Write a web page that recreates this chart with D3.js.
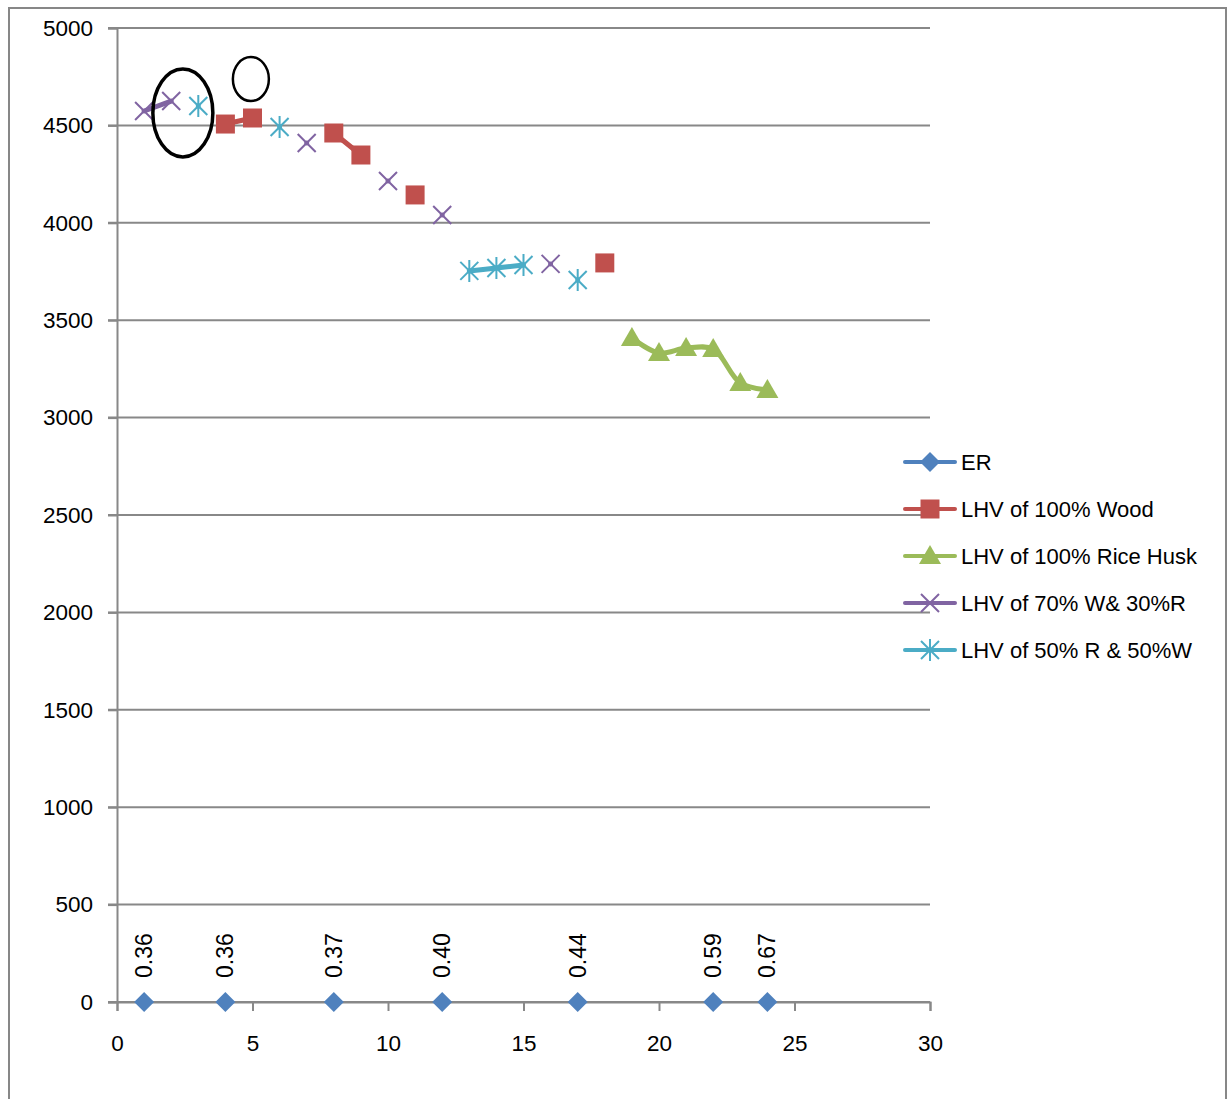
<!DOCTYPE html>
<html>
<head>
<meta charset="utf-8">
<script src="https://cdn.jsdelivr.net/npm/d3@7"></script>
<style>
  body { margin: 0; background: #fff; }
  text { font-family: "Liberation Sans", Arial, sans-serif; fill: #000; }
</style>
</head>
<body>
<svg id="chart" width="1228" height="1099"></svg>
<script>
// x positions (1..24), null = empty cell
let xs = d3.range(1, 25);
let er =       [0.36,null,null,0.36,null,null,null,0.37,null,null,null,0.40,null,null,null,null,0.44,null,null,null,null,0.59,null,0.67];
let wood =     [null,null,null,4507,4538,null,null,4461,4348,null,4143,null,null,null,null,null,null,3794,null,null,null,null,null,null];
let rice =     [null,null,null,null,null,null,null,null,null,null,null,null,null,null,null,null,null,null,3409,3332,3357,3352,3178,3142];
let mix70 =    [4574,4625,null,null,null,null,4410,null,null,4215,null,4040,null,null,null,3789,null,null,null,null,null,null,null,null];
let mix50 =    [null,null,4600,null,null,4492,null,null,null,null,null,null,3753,3768,3783,null,3706,null,null,null,null,null,null,null];

let seriesNames = ["ER", "LHV of 100% Wood", "LHV of 100% Rice Husk", "LHV of 70% W& 30%R", "LHV of 50% R & 50%W"];
let seriesColors = ["#4F81BD", "#C0504D", "#9BBB59", "#8064A2", "#4BACC6"];
let seriesMarkers = ["diamond", "square", "triangle", "x", "star"];

let xTicks = [0, 5, 10, 15, 20, 25, 30];
let yTicks = d3.range(0, 5001, 500);

// hand drawn circles on the picture (data coords, radii in px)
let ellipses = [
  {x: 2.43, y: 4564, rx: 30, ry: 44, w: 3.5},
  {x: 4.94, y: 4738, rx: 18, ry: 22, w: 2.5}
];

let svg = d3.select("#chart");

// outer frame
svg.append("rect")
  .attr("x", 9).attr("y", 8)
  .attr("width", 1217).attr("height", 1110)
  .attr("fill", "none").attr("stroke", "#878787").attr("stroke-width", 2);

let x = d3.scaleLinear().domain([0, 30]).range([117, 930]);
let y = d3.scaleLinear().domain([0, 5000]).range([1002, 28]);

// gridlines
svg.append("g")
  .selectAll("line")
  .data(yTicks)
  .enter().append("line")
  .attr("x1", 108).attr("x2", x(30))
  .attr("y1", d => y(d)).attr("y2", d => y(d))
  .attr("stroke", "#888").attr("stroke-width", 2);

// y axis
let yAxis = svg.append("g")
  .attr("transform", "translate(" + x(0) + ",0)")
  .call(d3.axisLeft(y).tickValues(yTicks).tickSize(9).tickPadding(15).tickFormat(d3.format("d")));
yAxis.select(".domain").attr("stroke", "#888").attr("stroke-width", 2);
yAxis.selectAll(".tick line").attr("stroke", "#888").attr("stroke-width", 2);
yAxis.selectAll("text").style("font-size", "22.5px").attr("fill", "#000");

// x axis
let xAxis = svg.append("g")
  .attr("transform", "translate(0," + y(0) + ")")
  .call(d3.axisBottom(x).tickValues(xTicks).tickSize(9).tickPadding(24));
xAxis.select(".domain").attr("stroke", "#888").attr("stroke-width", 2);
xAxis.selectAll(".tick line").attr("stroke", "#888").attr("stroke-width", 2);
xAxis.selectAll("text").style("font-size", "22.5px").attr("fill", "#000");

function markerPath(type) {
  if (type == "diamond") return "M0,-10L10,0L0,10L-10,0Z";
  if (type == "square") return "M-9.5,-9.5H9.5V9.5H-9.5Z";
  if (type == "triangle") return "M0,-11L11,8L-11,8Z";
  if (type == "x") return "M-9,-9L9,9M-9,9L9,-9";
  if (type == "star") return "M-9,-9L9,9M-9,9L9,-9M0,-11V11";
  return "";
}

function drawMarker(g, type, color, cx, cy) {
  let filled = (type == "diamond" || type == "square" || type == "triangle");
  g.append("path")
    .attr("d", markerPath(type))
    .attr("transform", "translate(" + cx + "," + cy + ")")
    .attr("fill", filled ? color : "none")
    .attr("stroke", color)
    .attr("stroke-width", filled ? 0 : 2);
}

let allSeries = [
  xs.map((d, i) => ({x: d, v: er[i] == null ? null : 0, label: er[i]})),
  xs.map((d, i) => ({x: d, v: wood[i]})),
  xs.map((d, i) => ({x: d, v: rice[i]})),
  xs.map((d, i) => ({x: d, v: mix70[i]})),
  xs.map((d, i) => ({x: d, v: mix50[i]}))
];

let line = d3.line()
  .defined(d => d.v != null)
  .x(d => x(d.x))
  .y(d => y(d.v))
  .curve(d3.curveCatmullRom.alpha(0.5));

let plot = svg.append("g");
allSeries.forEach(function(s, k) {
  plot.append("path")
    .datum(s)
    .attr("d", line)
    .attr("fill", "none")
    .attr("stroke", seriesColors[k])
    .attr("stroke-width", 5)
    .attr("stroke-linecap", "round");
});
allSeries.forEach(function(s, k) {
  s.filter(d => d.v != null).forEach(function(d) {
    drawMarker(plot, seriesMarkers[k], seriesColors[k], x(d.x), y(d.v));
  });
});

// ER data labels
plot.selectAll("text.lbl")
  .data(allSeries[0].filter(d => d.v != null))
  .enter().append("text")
  .attr("class", "lbl")
  .attr("transform", d => "translate(" + x(d.x) + "," + (y(0) - 24) + ") rotate(-90)")
  .attr("dominant-baseline", "central")
  .style("font-size", "23px")
  .text(d => d3.format(".2f")(d.label));

// annotation ellipses
svg.selectAll("ellipse")
  .data(ellipses)
  .enter().append("ellipse")
  .attr("cx", d => x(d.x)).attr("cy", d => y(d.y))
  .attr("rx", d => d.rx).attr("ry", d => d.ry)
  .attr("fill", "none").attr("stroke", "#000")
  .attr("stroke-width", d => d.w);

// legend
let legend = svg.append("g");
seriesNames.forEach(function(name, k) {
  let ly = 462 + k * 47;
  legend.append("line")
    .attr("x1", 905).attr("x2", 955)
    .attr("y1", ly).attr("y2", ly)
    .attr("stroke", seriesColors[k]).attr("stroke-width", 4)
    .attr("stroke-linecap", "round");
  drawMarker(legend, seriesMarkers[k], seriesColors[k], 930, ly);
  legend.append("text")
    .attr("x", 961).attr("y", ly)
    .attr("dominant-baseline", "central")
    .style("font-size", "22px")
    .text(name);
});
</script>
</body>
</html>
